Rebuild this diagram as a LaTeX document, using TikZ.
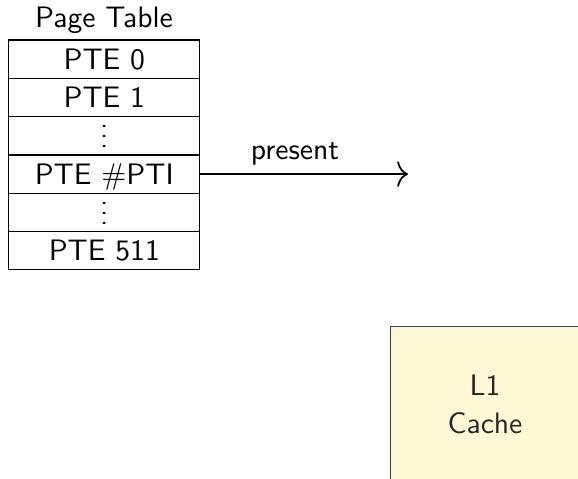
\documentclass[tikz,border=0pt]{standalone}
\usepackage{graphicx}
\usetikzlibrary{arrows.meta}
\definecolor{cachefill}{RGB}{255,248,214}
\newcommand{\rowdots}{\smash{\raisebox{-0.6pt}{\scalebox{1}[0.83]{$\vdots$}}}}
\begin{document}
\begin{tikzpicture}[x=0.3333pt,y=-0.3333pt,
  every node/.style={font=\fontsize{9.87}{12.7}\selectfont\sffamily},
  pterow/.style={draw, line width=0.4pt, minimum width=63.6pt, minimum height=12.77pt, text height=6.85pt, text depth=0pt, inner sep=0pt, outer sep=0pt, anchor=center},
  cachebox/.style={draw=black!75, fill=cachefill, line width=0.4pt}
]
\useasboundingbox (0,0) rectangle (578,479);
\clip (0,0) rectangle (578,479);
% Page table
\node[anchor=base] (title) at (104,27.3) {Page Table};
\node[pterow] (r0) at (104.3,59.2) {PTE 0};
\node[pterow] (r1) at (104.3,97.5) {PTE 1};
\node[pterow] (r2) at (104.3,135.8) {\rowdots};
\node[pterow] (r3) at (104.3,174.1) {PTE $\#$PTI};
\node[pterow] (r4) at (104.3,212.4) {\rowdots};
\node[pterow] (r5) at (104.3,250.7) {PTE 511};
% arrow
\coordinate (aend) at (408,174.1);
\draw[line width=0.6pt, -{To[length=3.6pt,width=8.5pt]}] (r3.east) -- (aend);
\node[anchor=base] (lbl) at (295,160) {present};
% L1 cache
\draw[cachebox] (390.5,481) -- (390.5,326.7) -- (580,326.7) -- (580,481) -- cycle;
\node[align=center, text=black!85] (l1) at (485,404) {L1\\Cache};
\end{tikzpicture}
\end{document}
